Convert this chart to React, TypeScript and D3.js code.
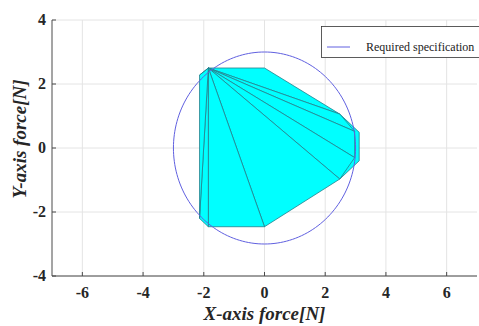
import * as d3 from 'd3';
import React, { useRef, useEffect } from 'react';

// axis ticks
const xTicks = [-6, -4, -2, 0, 2, 4, 6];
const yTicks = [-4, -2, 0, 2, 4];

// apex of the force fan
const apex: [number, number] = [-1.85, 2.5];
// fan vertices (in order) forming triangles with the apex
const fanVertices: [number, number][] = [
  [0, 2.5],
  [2.48, 1.06],
  [2.97, 0.52],
  [2.97, -0.3],
  [2.48, -0.97],
  [0, -2.46],
  [-1.85, -2.46],
  [-2.14, -2.2],
  [-2.14, 2.28],
];
// outer sliver on the right side
const sliver: [number, number][] = [
  [2.48, 1.06],
  [3.12, 0.49],
  [3.12, -0.4],
  [2.48, -0.97],
];
// required specification circle radius
const specRadius = 3;

const App = () => {
  const svgRef = useRef<SVGSVGElement>(null);

  useEffect(() => {
    const width = 479;
    const height = 326;
    const margin = { top: 20, right: 2, bottom: 50, left: 52 };

    const x = d3.scaleLinear().domain([-7, 7]).range([margin.left, width - margin.right]);
    const y = d3.scaleLinear().domain([-4, 4]).range([height - margin.bottom, margin.top]);

    const svg = d3.select(svgRef.current);
    svg.selectAll('*').remove();

    // grid lines
    svg
      .append('g')
      .selectAll('line')
      .data(xTicks)
      .enter()
      .append('line')
      .attr('x1', (d) => x(d))
      .attr('x2', (d) => x(d))
      .attr('y1', y(-4))
      .attr('y2', y(4))
      .attr('stroke', '#e4e4e4')
      .attr('stroke-width', 1);
    svg
      .append('g')
      .selectAll('line')
      .data(yTicks)
      .enter()
      .append('line')
      .attr('x1', x(-7))
      .attr('x2', x(7))
      .attr('y1', (d) => y(d))
      .attr('y2', (d) => y(d))
      .attr('stroke', '#e4e4e4')
      .attr('stroke-width', 1);

    const line = d3
      .line<[number, number]>()
      .x((d) => x(d[0]))
      .y((d) => y(d[1]));
    const closed = line.copy ? line : line;

    // right sliver (open path so the inner side is not stroked)
    svg
      .append('path')
      .attr('d', line(sliver))
      .attr('fill', '#00ffff')
      .attr('stroke', '#237f8c')
      .attr('stroke-width', 0.8);

    // triangles from the apex
    const triangles: [number, number][][] = [];
    for (let i = 0; i < fanVertices.length - 1; i++) {
      triangles.push([apex, fanVertices[i], fanVertices[i + 1], apex]);
    }
    triangles.push([apex, fanVertices[fanVertices.length - 1]]);

    svg
      .append('g')
      .selectAll('path')
      .data(triangles)
      .enter()
      .append('path')
      .attr('d', (d) => closed(d))
      .attr('fill', '#00ffff')
      .attr('stroke', '#237f8c')
      .attr('stroke-width', 0.8)
      .attr('stroke-linejoin', 'round');

    // spec circle
    const circlePts: [number, number][] = d3.range(0, 361, 2).map((a) => {
      const t = (a * Math.PI) / 180;
      return [specRadius * Math.cos(t), specRadius * Math.sin(t)];
    });
    svg
      .append('path')
      .attr('d', line(circlePts))
      .attr('fill', 'none')
      .attr('stroke', '#6060e0')
      .attr('stroke-width', 1);

    // axes
    const axisColor = '#4a4a4a';
    svg
      .append('line')
      .attr('x1', x(-7))
      .attr('x2', x(7))
      .attr('y1', y(-4))
      .attr('y2', y(-4))
      .attr('stroke', axisColor);
    svg
      .append('line')
      .attr('x1', x(-7))
      .attr('x2', x(-7))
      .attr('y1', y(-4))
      .attr('y2', y(4))
      .attr('stroke', axisColor);

    svg
      .append('g')
      .selectAll('line')
      .data(xTicks)
      .enter()
      .append('line')
      .attr('x1', (d) => x(d))
      .attr('x2', (d) => x(d))
      .attr('y1', y(-4))
      .attr('y2', y(-4) - 4)
      .attr('stroke', axisColor);
    svg
      .append('g')
      .selectAll('line')
      .data(yTicks)
      .enter()
      .append('line')
      .attr('x1', x(-7))
      .attr('x2', x(-7) + 4)
      .attr('y1', (d) => y(d))
      .attr('y2', (d) => y(d))
      .attr('stroke', axisColor);

    const font = '"Liberation Serif", "Times New Roman", serif';

    svg
      .append('g')
      .selectAll('text')
      .data(xTicks)
      .enter()
      .append('text')
      .attr('x', (d) => x(d))
      .attr('y', y(-4) + 22)
      .attr('text-anchor', 'middle')
      .attr('font-family', font)
      .attr('font-weight', 'bold')
      .attr('font-size', 16)
      .attr('fill', '#262626')
      .text((d) => d);

    svg
      .append('g')
      .selectAll('text')
      .data(yTicks)
      .enter()
      .append('text')
      .attr('x', x(-7) - 6)
      .attr('y', (d) => y(d) + 5)
      .attr('text-anchor', 'end')
      .attr('font-family', font)
      .attr('font-weight', 'bold')
      .attr('font-size', 16)
      .attr('fill', '#262626')
      .text((d) => d);

    // axis titles
    svg
      .append('text')
      .attr('x', x(0))
      .attr('y', 320)
      .attr('text-anchor', 'middle')
      .attr('font-family', font)
      .attr('font-weight', 'bold')
      .attr('font-style', 'italic')
      .attr('font-size', 19)
      .attr('fill', '#262626')
      .text('X-axis force[N]');

    svg
      .append('text')
      .attr('transform', `translate(26, ${y(0) - 9}) rotate(-90)`)
      .attr('text-anchor', 'middle')
      .attr('font-family', font)
      .attr('font-weight', 'bold')
      .attr('font-style', 'italic')
      .attr('font-size', 19)
      .attr('fill', '#262626')
      .text('Y-axis force[N]');

    // legend
    const legend = svg.append('g');
    legend
      .append('rect')
      .attr('x', 321.5)
      .attr('y', 26.5)
      .attr('width', 170)
      .attr('height', 31)
      .attr('fill', '#fff')
      .attr('stroke', '#333')
      .attr('stroke-width', 0.8);
    legend
      .append('line')
      .attr('x1', 327)
      .attr('x2', 350)
      .attr('y1', 47)
      .attr('y2', 47)
      .attr('stroke', '#6060e0');
    legend
      .append('text')
      .attr('x', 366)
      .attr('y', 51)
      .attr('font-family', font)
      .attr('font-size', 12)
      .attr('fill', '#222')
      .text('Required specification');
  }, []);

  return (
    <svg
      ref={svgRef}
      width={479}
      height={326}
      style={{ position: 'absolute', left: 0, top: 0, background: '#fff' }}
    ></svg>
  );
};

export default App;
